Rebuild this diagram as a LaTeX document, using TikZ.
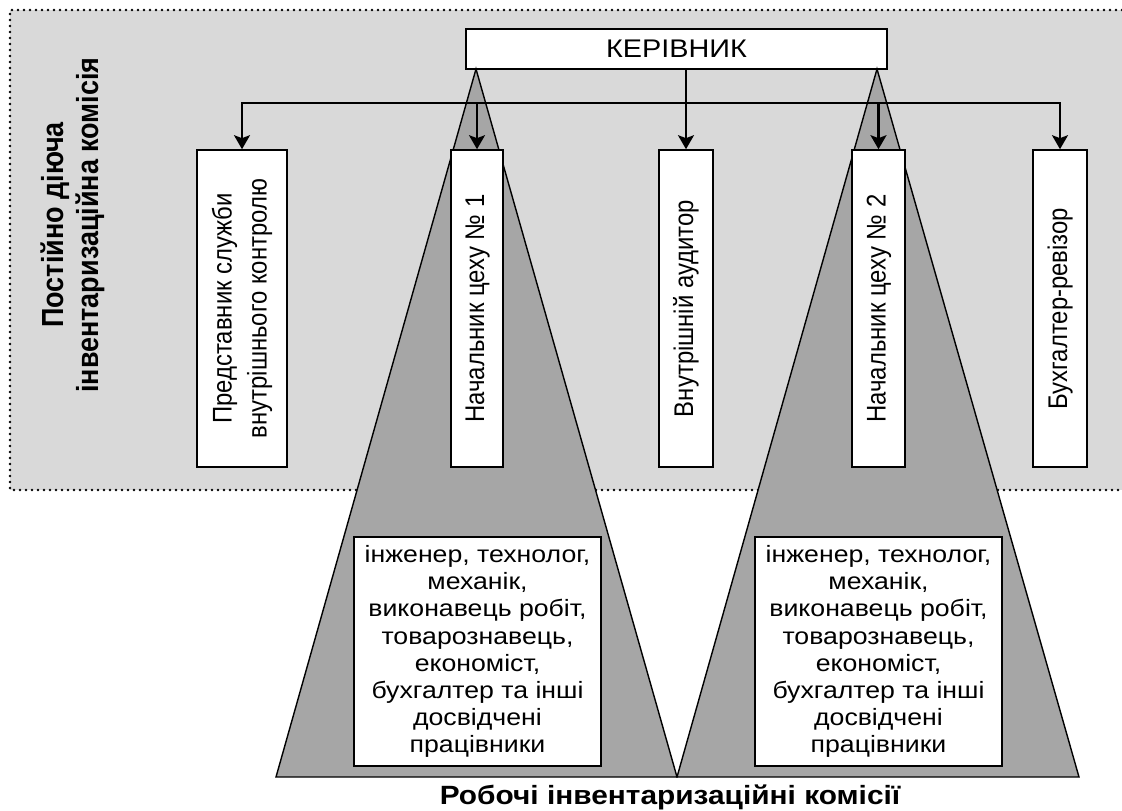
\documentclass[tikz,border=0pt]{standalone}
\usepackage{fontspec}
\setmainfont{Liberation Sans}[FakeStretch=1.13]
\newfontfamily\rotfont{Liberation Sans}[FakeStretch=0.885]
\usepackage{graphicx}
\usepackage{xcolor}
\usepackage{tikz}
\usetikzlibrary{positioning,arrows.meta}
\definecolor{svitlosiryi}{HTML}{D9D9D9}
\definecolor{temnosiryi}{HTML}{A6A6A6}
\newcommand{\vtekst}[2][\mdseries\fontsize{27}{35}]{\rotatebox{90}{\rotfont#1\selectfont\begin{tabular}{@{}c@{}}#2\end{tabular}}}

\begin{document}
\begin{tikzpicture}[x=1pt,y=-1pt,>=Stealth]
    \tikzset{
        boks/.style={
            draw=black,
            fill=white,
            line width=1.6pt,
            inner sep=0pt
        },
        vboks/.style={
            boks,
            minimum height=317pt
        },
        tekstboks/.style={
            boks,
            minimum width=247pt,
            minimum height=229pt,
            align=center,
            font=\fontsize{23.6}{27.1}\selectfont
        },
        trykutnyk/.style={
            fill=temnosiryi,
            draw=black,
            line width=1.4pt,
            line join=miter
        },
        strilka/.style={
            -{Stealth[length=14pt,width=16pt,inset=3pt]},
            draw=black,
            line width=2.2pt
        },
        rama/.style={
            draw=black,
            line width=2.8pt,
            line cap=round,
            dash pattern=on 0pt off 6pt
        }
    }
    \useasboundingbox (0,0) rectangle (1122,811);

    % Постійно діюча комісія
    \fill[svitlosiryi] (10,10) rectangle (1122,490);
    \draw[rama] (1122,10) -- (10,10) -- (10,490) -- (1122,490);
    \node[inner sep=0pt] (postiina) at (74,225) {\vtekst[\bfseries\fontsize{30.5}{35}]{Постійно діюча\\інвентаризаційна комісія}};

    \node[boks, minimum width=421pt, minimum height=40pt, font=\fontsize{25.5}{28}\selectfont] (kerivnyk) at (676.5,49) {КЕРІВНИК};

    % Робочі комісії
    \coordinate (verh1) at (476,69);
    \coordinate (verh2) at (877,69);
    \filldraw[trykutnyk] (verh1) -- (677,777) -- (276,777) -- cycle;
    \filldraw[trykutnyk] (verh2) -- (1079,777) -- (677,777) -- cycle;

    \node[vboks, minimum width=90pt] (predst)  at (242,308.5)  {\vtekst{Представник служби\\внутрішнього контролю}};
    \node[vboks, minimum width=52pt] (nach1)   at (477,308.5)  {\vtekst{Начальник цеху № 1}};
    \node[vboks, minimum width=54pt] (audytor) at (686,308.5)  {\vtekst{Внутрішній аудитор}};
    \node[vboks, minimum width=53pt] (nach2)   at (878.5,308.5){\vtekst{Начальник цеху № 2}};
    \node[vboks, minimum width=54pt] (buh)     at (1060,308.5) {\vtekst{Бухгалтер-ревізор}};

    \node[tekstboks] (robochi1) at (477.5,651.5) {інженер, технолог,\\механік,\\виконавець робіт,\\товарознавець,\\економіст,\\бухгалтер та інші\\досвідчені\\працівники};
    \node[tekstboks] (robochi2) at (878.5,651.5) {інженер, технолог,\\механік,\\виконавець робіт,\\товарознавець,\\економіст,\\бухгалтер та інші\\досвідчені\\працівники};

    \node[font=\bfseries\fontsize{26.4}{30}\selectfont] (pidpys) at (670,797) {Робочі інвентаризаційні комісії};

    % Підпорядкування
    \coordinate (shyna) at (0,103);
    \draw[strilka] (kerivnyk.south -| audytor.north) -- (audytor.north);
    \draw[strilka] (audytor.north |- shyna) -| (predst.north);
    \draw[strilka] (audytor.north |- shyna) -| (buh.north);
    \draw[strilka] (nach1.north |- shyna) -- (nach1.north);
    \draw[strilka] (nach2.north |- shyna) -- (nach2.north);
\end{tikzpicture}
\end{document}
